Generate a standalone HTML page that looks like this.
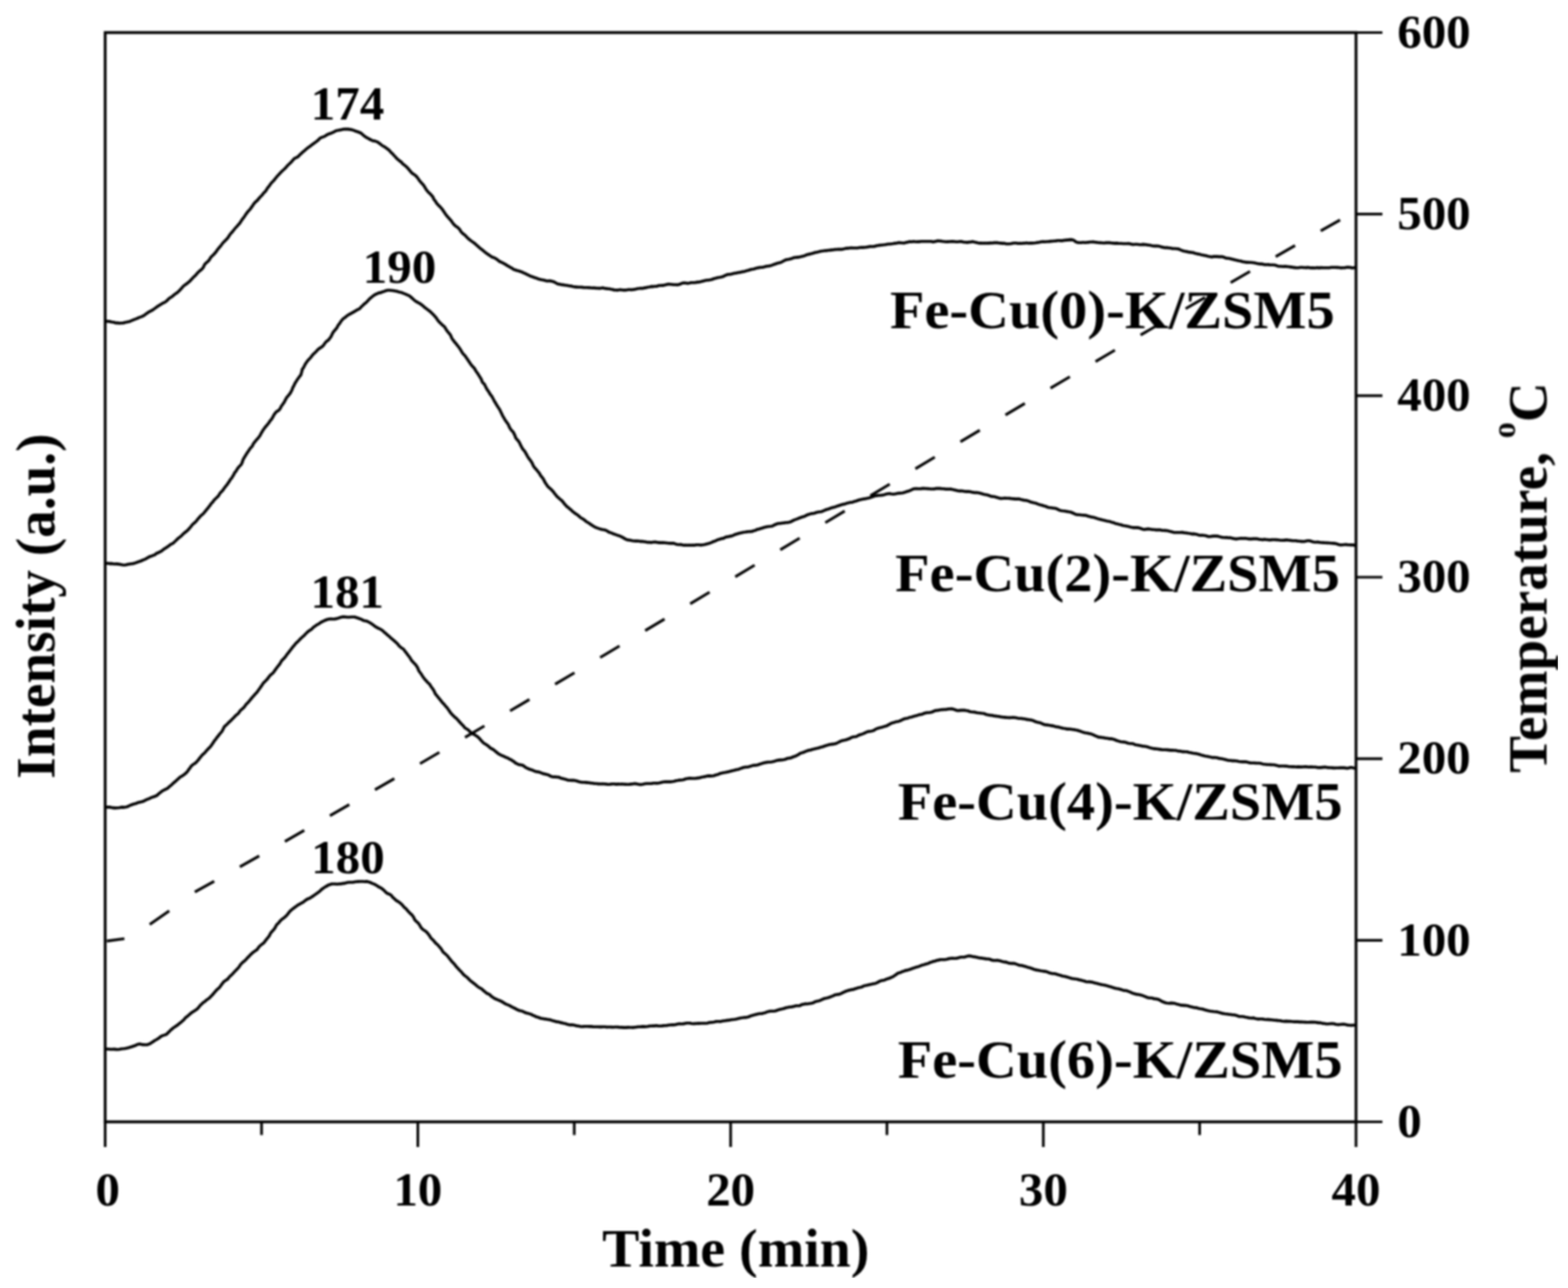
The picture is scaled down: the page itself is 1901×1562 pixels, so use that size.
<!DOCTYPE html><html><head><meta charset="utf-8"><style>html,body{margin:0;padding:0;background:#fff;}svg{display:block;}</style></head><body>
<svg width="1901" height="1562" viewBox="0 0 1901 1562">
<defs><filter id="bl" x="0" y="0" width="1" height="1"><feGaussianBlur stdDeviation="0.85"/></filter></defs>
<rect width="1901" height="1562" fill="#fff"/>
<g filter="url(#bl)">
<path d="M128.5,389.8 L129.8,389.6 L131.4,389.8 L133.3,389.9 L135.4,390.5 L137.7,390.7 L140.1,391.6 L142.5,391.6 L145.0,392.0 L147.3,391.8 L149.5,391.8 L151.3,391.0 L153.2,390.8 L155.1,390.3 L157.0,390.0 L158.7,389.1 L160.6,388.4 L162.4,387.6 L164.4,386.9 L166.4,386.1 L168.4,385.1 L170.7,384.4 L172.4,383.7 L174.1,382.8 L175.8,381.7 L177.4,380.4 L179.1,379.3 L180.9,378.1 L182.8,377.2 L184.7,376.2 L186.5,374.9 L188.3,373.6 L190.1,372.3 L191.9,371.1 L193.7,369.9 L195.6,368.8 L197.3,367.7 L199.1,366.9 L200.8,366.0 L202.3,364.7 L203.7,363.2 L205.1,361.9 L206.8,360.7 L208.6,359.7 L210.1,358.4 L211.6,357.1 L213.3,355.9 L215.1,354.8 L216.6,353.3 L218.1,351.9 L219.5,350.2 L220.9,348.7 L222.2,347.1 L223.8,345.9 L225.4,344.7 L227.1,343.5 L228.7,342.2 L230.3,340.8 L231.7,339.2 L233.1,337.8 L234.5,336.1 L236.1,334.8 L237.6,333.2 L239.0,331.6 L240.5,330.0 L242.1,328.5 L243.8,327.2 L245.4,325.7 L246.7,323.9 L247.5,321.9 L248.6,320.1 L250.1,318.7 L251.8,317.3 L253.3,315.7 L254.5,313.9 L255.6,312.0 L257.2,310.4 L258.8,309.0 L260.3,307.3 L261.7,305.7 L262.9,303.9 L264.2,302.2 L265.5,300.6 L266.9,299.1 L268.1,297.5 L269.2,296.0 L270.3,294.5 L271.6,293.3 L273.3,291.5 L275.0,289.9 L276.4,288.2 L277.5,286.4 L278.6,284.7 L279.7,283.2 L281.1,281.9 L282.3,280.4 L283.4,279.0 L284.6,277.5 L285.8,276.0 L287.2,274.7 L288.5,273.1 L290.0,271.6 L291.2,269.9 L292.4,268.1 L293.5,266.3 L294.8,264.6 L296.2,262.9 L297.3,261.1 L298.5,259.3 L299.8,257.6 L301.1,255.9 L302.6,254.4 L304.0,252.8 L305.1,251.0 L306.4,249.4 L307.4,247.6 L308.8,246.1 L310.1,244.5 L311.8,243.3 L313.0,241.7 L314.3,240.2 L315.6,238.7 L317.1,237.3 L318.5,235.8 L319.5,234.1 L321.1,232.8 L322.4,231.2 L323.5,229.5 L324.5,227.7 L325.9,226.2 L327.1,224.5 L328.3,222.8 L329.6,221.2 L331.1,219.8 L332.5,218.3 L333.7,216.6 L335.0,215.1 L336.2,213.5 L337.7,212.2 L338.9,210.7 L340.5,209.1 L342.0,207.5 L343.7,206.0 L345.3,204.5 L346.8,202.9 L348.2,201.3 L349.7,199.8 L351.3,198.3 L352.8,196.9 L354.2,195.3 L355.5,193.7 L357.1,192.1 L359.2,191.2 L361.1,190.1 L362.7,188.6 L364.2,187.1 L365.8,185.6 L367.4,184.2 L369.0,182.9 L370.5,181.4 L372.2,180.1 L373.9,178.7 L375.8,177.5 L377.5,176.1 L379.4,174.8 L381.0,173.4 L382.9,172.2 L384.6,170.8 L386.3,169.5 L387.6,167.8 L389.4,166.9 L391.5,166.1 L393.6,165.4 L395.3,164.1 L397.2,163.1 L399.1,162.2 L401.1,161.7 L402.9,160.8 L404.6,160.1 L406.1,159.2 L408.3,158.3 L410.4,158.0 L412.3,157.6 L414.2,157.3 L416.0,156.8 L418.0,156.5 L419.9,156.6 L421.8,156.6 L423.8,156.9 L425.8,157.1 L427.8,157.8 L429.8,158.4 L431.7,159.3 L433.5,159.8 L435.4,160.5 L437.3,161.2 L439.0,162.7 L440.7,164.1 L442.5,165.6 L444.5,166.9 L446.7,167.9 L448.3,169.0 L450.1,169.7 L451.9,170.7 L454.0,170.9 L456.1,171.6 L458.1,172.4 L459.8,173.7 L461.6,175.0 L463.3,176.5 L465.2,177.5 L467.1,178.6 L468.6,179.8 L470.3,181.0 L471.9,182.3 L473.3,183.9 L474.7,185.4 L476.3,186.8 L477.6,188.5 L479.2,190.0 L480.5,191.7 L482.1,193.1 L483.7,194.5 L485.4,195.8 L487.0,197.0 L488.2,198.7 L489.9,199.8 L491.4,201.1 L493.0,202.4 L494.4,203.9 L495.7,205.5 L497.0,207.0 L498.2,208.6 L499.6,210.1 L501.3,211.1 L503.0,212.3 L504.5,213.5 L505.8,215.1 L507.2,216.8 L508.2,218.6 L509.6,220.2 L510.9,221.8 L512.3,223.3 L513.7,224.8 L514.7,226.5 L515.7,228.2 L516.7,229.9 L517.9,231.3 L519.0,232.8 L520.8,234.3 L522.3,235.9 L523.7,237.5 L525.0,239.1 L525.7,241.1 L526.9,242.8 L528.2,244.4 L529.2,246.3 L530.7,247.9 L532.1,249.5 L533.7,250.8 L535.0,252.5 L536.4,254.0 L537.5,255.9 L538.8,257.6 L540.0,259.5 L541.3,261.3 L542.8,263.0 L544.4,264.7 L545.7,266.2 L547.1,267.7 L548.2,269.5 L549.5,271.3 L551.0,272.9 L552.7,274.4 L554.6,275.6 L556.1,277.1 L557.6,278.6 L558.5,280.5 L559.9,281.9 L561.1,283.3 L563.2,284.8 L564.9,286.4 L566.4,288.0 L567.9,289.5 L569.5,290.8 L571.2,292.1 L573.0,293.4 L574.9,294.8 L576.5,296.0 L577.9,297.4 L579.4,298.7 L581.0,300.1 L582.6,301.5 L584.3,302.7 L586.0,304.1 L587.8,305.6 L589.6,307.0 L591.5,308.4 L593.1,309.4 L594.7,310.6 L596.4,311.7 L598.4,312.3 L600.3,313.2 L602.1,314.3 L603.8,315.6 L605.5,317.0 L607.5,317.9 L609.5,318.8 L611.4,319.9 L613.3,320.9 L615.0,322.2 L616.9,323.1 L618.7,324.3 L620.7,325.2 L622.4,326.6 L624.5,327.3 L626.5,328.0 L628.7,328.5 L630.8,329.2 L632.8,329.9 L634.7,330.9 L636.6,331.7 L638.5,332.7 L640.4,333.5 L642.3,334.5 L644.3,335.3 L646.4,335.9 L648.3,336.8 L650.4,337.3 L652.4,338.2 L654.5,338.7 L656.5,339.2 L658.5,339.5 L660.4,340.1 L662.2,340.6 L664.1,340.7 L666.0,340.5 L668.5,340.9 L670.7,341.4 L672.5,342.3 L674.2,343.3 L675.9,344.3 L677.9,344.6 L680.0,345.1 L682.5,345.4 L684.3,345.7 L686.2,346.0 L688.2,346.3 L690.3,346.7 L692.5,346.9 L694.6,347.5 L696.8,347.9 L699.0,348.1 L701.3,348.3 L703.5,348.2 L705.7,348.4 L707.8,348.7 L709.9,348.8 L712.0,348.8 L714.0,348.9 L716.1,349.0 L718.1,349.2 L720.2,349.0 L722.3,349.4 L724.3,349.5 L726.4,349.6 L728.6,349.5 L730.8,349.1 L733.0,349.7 L734.9,349.9 L736.8,350.2 L738.8,350.3 L740.7,350.7 L742.6,351.0 L744.5,351.7 L746.5,351.8 L748.5,351.9 L750.6,351.5 L752.8,351.4 L754.9,351.8 L757.1,351.9 L759.4,351.7 L761.8,351.3 L763.6,351.3 L765.4,351.4 L767.3,351.2 L769.2,350.9 L771.1,350.5 L773.1,350.0 L775.1,349.8 L777.1,349.5 L779.2,349.7 L781.3,349.1 L783.4,348.9 L785.4,348.2 L787.6,348.0 L789.7,347.4 L791.9,347.6 L794.0,347.2 L796.2,347.2 L798.3,346.4 L800.5,346.3 L802.5,346.1 L804.5,346.1 L806.5,345.6 L808.5,345.1 L810.5,344.6 L812.6,344.8 L814.7,345.0 L816.9,345.3 L819.0,345.2 L821.1,345.4 L823.2,345.0 L825.3,344.2 L827.3,343.3 L829.4,343.1 L831.6,343.3 L833.7,343.6 L835.8,343.3 L837.8,342.8 L839.9,342.8 L842.0,342.8 L844.0,342.4 L846.0,342.1 L848.1,342.0 L850.0,341.4 L851.9,340.9 L853.8,340.4 L855.7,340.0 L857.7,339.7 L859.7,339.6 L861.6,339.2 L863.5,338.7 L865.3,338.0 L867.3,337.5 L869.2,336.9 L871.1,336.5 L873.1,336.2 L875.1,335.8 L877.1,335.2 L879.0,334.2 L880.9,333.3 L883.0,332.7 L885.2,332.7 L887.1,332.2 L889.0,331.8 L891.0,331.2 L893.0,331.1 L895.1,330.5 L897.2,330.4 L899.2,329.7 L901.3,329.4 L903.4,328.9 L905.5,328.2 L907.6,327.8 L909.7,327.0 L911.8,326.5 L913.9,326.2 L916.0,325.6 L918.0,325.1 L920.1,324.6 L922.1,324.3 L924.2,324.2 L926.2,323.8 L928.1,323.2 L930.0,322.8 L931.9,322.6 L933.8,322.3 L936.0,321.6 L938.2,320.7 L940.4,320.0 L942.5,319.3 L944.6,318.8 L946.7,318.3 L948.6,317.2 L950.4,316.2 L952.3,315.3 L954.2,314.7 L956.3,314.5 L958.2,313.9 L960.1,313.4 L962.0,312.6 L964.0,312.3 L966.0,312.1 L968.1,311.9 L970.1,311.5 L972.1,311.1 L974.1,310.6 L976.1,309.8 L978.0,308.9 L980.0,308.4 L982.0,308.1 L984.0,307.5 L986.0,307.0 L988.0,306.3 L990.0,305.9 L992.0,305.5 L994.0,304.9 L996.0,304.5 L998.0,304.3 L1000.1,304.0 L1002.1,303.9 L1004.1,303.5 L1006.2,303.4 L1008.2,303.1 L1010.2,303.0 L1012.2,302.6 L1014.2,302.5 L1016.3,302.3 L1018.3,302.4 L1020.3,302.4 L1022.3,302.0 L1024.3,301.6 L1026.3,301.1 L1028.3,301.1 L1030.3,300.7 L1032.3,300.6 L1034.4,300.7 L1036.4,300.8 L1038.4,300.8 L1040.4,300.6 L1042.4,300.2 L1044.5,300.1 L1046.5,300.1 L1048.5,300.0 L1050.5,299.7 L1052.5,299.4 L1054.5,298.9 L1056.6,299.0 L1058.6,298.9 L1060.6,298.7 L1062.6,298.0 L1064.6,297.7 L1066.6,297.4 L1068.6,297.2 L1070.6,297.0 L1072.6,296.8 L1074.6,296.4 L1076.6,296.0 L1078.7,296.0 L1080.7,295.7 L1082.7,295.5 L1084.7,295.1 L1086.7,295.0 L1088.7,294.4 L1090.7,294.3 L1092.8,294.5 L1094.9,294.8 L1096.9,294.6 L1098.8,293.9 L1100.9,293.6 L1102.9,293.1 L1104.9,293.3 L1106.9,292.9 L1108.9,293.0 L1111.0,293.2 L1113.0,293.0 L1115.0,293.1 L1117.0,292.7 L1119.0,292.7 L1121.0,292.8 L1123.0,292.8 L1125.0,292.8 L1127.0,292.8 L1129.0,292.7 L1131.0,293.4 L1133.0,292.9 L1135.0,292.6 L1137.0,292.1 L1139.0,292.3 L1141.0,292.4 L1143.1,292.8 L1145.1,293.0 L1147.1,293.3 L1149.2,293.1 L1151.3,293.0 L1153.3,292.9 L1155.2,292.9 L1157.2,293.0 L1159.1,293.3 L1161.1,293.2 L1163.0,293.0 L1165.0,292.9 L1166.9,293.2 L1168.9,293.7 L1170.9,293.8 L1172.9,294.1 L1174.9,293.6 L1177.0,293.5 L1179.1,293.0 L1181.2,293.5 L1183.3,293.9 L1185.5,294.5 L1187.7,294.9 L1190.0,294.8 L1191.8,295.0 L1193.7,294.9 L1195.5,295.0 L1197.4,294.7 L1199.3,294.9 L1201.3,294.6 L1203.2,294.7 L1205.2,294.4 L1207.1,294.4 L1209.1,294.4 L1211.1,294.7 L1213.1,294.9 L1215.2,295.1 L1217.2,295.1 L1219.3,295.6 L1221.4,295.7 L1223.5,295.8 L1225.6,295.5 L1227.7,295.0 L1229.8,294.7 L1231.9,294.8 L1234.1,295.3 L1236.2,295.1 L1238.4,295.3 L1240.4,294.9 L1242.4,295.0 L1244.5,294.6 L1246.6,295.0 L1248.8,294.8 L1251.0,294.9 L1253.3,294.7 L1255.6,294.5 L1257.8,294.1 L1260.1,293.8 L1262.4,293.2 L1264.7,293.1 L1267.0,293.2 L1269.3,293.0 L1271.5,292.9 L1273.8,292.6 L1275.9,292.5 L1278.1,292.2 L1280.1,292.1 L1282.1,291.8 L1284.1,291.8 L1286.0,291.9 L1287.8,291.9 L1289.5,291.4 L1291.1,291.5 L1292.6,291.1 L1294.0,291.1 L1297.8,290.6 L1300.3,290.9 L1301.9,291.4 L1302.9,292.2 L1303.8,293.1 L1305.3,293.7 L1307.5,294.2 L1311.0,294.3 L1312.4,294.0 L1314.0,294.0 L1315.6,294.2 L1317.4,294.0 L1319.2,293.9 L1321.2,293.5 L1323.2,293.5 L1325.3,293.2 L1327.4,293.7 L1329.6,293.9 L1331.8,294.3 L1334.0,294.4 L1336.2,294.5 L1338.5,294.7 L1340.8,294.4 L1343.0,294.4 L1345.2,294.2 L1347.4,294.7 L1349.6,294.9 L1351.7,295.1 L1353.7,294.9 L1355.7,295.1 L1357.6,295.2 L1359.4,295.3 L1361.7,295.5 L1364.0,295.5 L1366.2,295.5 L1368.3,295.4 L1370.4,295.7 L1372.4,296.4 L1374.4,296.5 L1376.4,296.2 L1378.3,296.3 L1380.2,296.5 L1382.1,296.7 L1384.0,296.6 L1386.0,296.4 L1387.9,296.6 L1389.8,296.8 L1391.7,297.1 L1393.7,297.3 L1395.7,297.8 L1397.7,298.2 L1399.8,298.4 L1401.9,298.2 L1404.0,298.4 L1406.2,298.8 L1408.2,299.6 L1410.3,299.9 L1412.4,300.4 L1414.6,300.3 L1416.7,300.6 L1418.8,300.8 L1420.8,301.4 L1422.8,301.5 L1424.9,301.5 L1426.8,301.7 L1428.7,301.9 L1430.3,302.7 L1432.0,303.4 L1434.4,304.2 L1436.6,304.8 L1438.8,305.1 L1440.9,305.7 L1442.9,305.9 L1444.9,306.2 L1446.8,306.4 L1448.5,307.2 L1450.4,307.5 L1452.3,308.1 L1454.2,308.3 L1456.1,308.9 L1458.1,309.3 L1460.0,309.7 L1461.8,310.1 L1463.7,310.6 L1465.5,311.0 L1467.4,311.3 L1469.2,311.7 L1471.3,311.1 L1473.4,311.1 L1475.6,311.1 L1477.9,311.4 L1480.4,311.4 L1482.2,311.4 L1483.9,312.0 L1485.7,312.7 L1487.6,313.3 L1489.6,313.3 L1491.6,313.7 L1493.6,314.2 L1495.6,314.7 L1497.7,315.3 L1499.8,315.7 L1501.9,316.2 L1504.0,316.5 L1506.1,317.3 L1508.2,317.6 L1510.3,318.1 L1512.5,318.1 L1514.6,318.3 L1516.6,318.3 L1518.7,318.5 L1520.8,318.8 L1522.8,319.3 L1524.9,319.7 L1527.0,320.1 L1529.2,320.1 L1531.3,320.4 L1533.4,320.9 L1535.5,321.0 L1537.6,320.9 L1539.7,321.2 L1541.7,321.3 L1543.8,321.2 L1545.7,321.6 L1547.6,322.1 L1549.4,322.7 L1551.1,323.0 L1552.9,323.0 L1555.2,323.2 L1557.2,323.1 L1558.9,323.1 L1560.4,323.2 L1561.8,323.5 L1563.2,323.5 L1564.7,323.9 L1566.4,323.9 L1568.4,324.4 L1570.8,324.6 L1573.7,324.7 L1577.1,324.3 L1578.6,324.3 L1580.2,324.5 L1581.9,324.5 L1583.8,324.6 L1585.8,324.3 L1587.8,324.7 L1590.0,324.9 L1592.2,324.9 L1594.5,325.0 L1596.8,324.6 L1599.2,324.9 L1601.7,324.6 L1604.1,324.8 L1606.6,324.8 L1609.1,324.8 L1611.6,324.7 L1614.0,324.3 L1616.5,324.3 L1618.9,324.3 L1621.3,324.4 L1623.6,324.5 L1625.9,324.9 L1628.1,324.8 L1630.2,324.8 L1632.2,324.3 L1634.1,324.0 L1635.9,324.2 L1637.6,324.4 L1639.2,325.0 L1640.6,324.7 L1641.9,324.7 L1643.0,324.3" fill="none" stroke="#000" stroke-width="3.6" stroke-linejoin="round" stroke-linecap="round"/>
<path d="M128.5,683.1 L129.7,683.2 L131.2,683.1 L132.8,683.6 L134.8,683.4 L136.8,683.7 L139.0,684.0 L141.3,683.9 L143.6,684.1 L146.0,684.5 L148.3,685.0 L150.5,685.3 L152.6,684.9 L154.6,684.4 L156.6,684.2 L158.5,683.8 L160.5,683.6 L162.4,683.3 L164.1,682.6 L166.0,682.0 L167.7,681.3 L169.6,680.7 L171.5,680.0 L173.4,679.1 L175.4,678.3 L177.5,677.3 L179.0,676.4 L180.6,675.5 L182.3,674.7 L184.2,674.2 L186.0,673.4 L187.9,672.7 L189.4,671.2 L191.3,670.5 L193.2,669.6 L195.1,668.7 L196.8,667.5 L198.4,666.1 L200.2,665.0 L202.0,663.9 L203.6,662.7 L205.3,661.6 L206.9,660.2 L208.9,659.4 L210.5,658.2 L212.0,656.8 L213.6,655.3 L215.0,653.8 L216.6,652.4 L218.3,651.1 L219.9,649.8 L221.4,648.3 L222.9,646.8 L224.5,645.5 L226.2,644.2 L227.8,642.8 L229.2,641.2 L230.6,639.6 L231.9,638.1 L233.0,636.5 L234.5,635.2 L236.0,633.9 L237.4,632.5 L238.7,631.1 L239.8,629.4 L241.2,628.0 L242.5,626.5 L243.9,625.1 L245.4,623.9 L246.9,622.5 L248.2,620.8 L249.6,619.3 L250.8,617.6 L252.3,616.0 L253.5,614.1 L254.9,612.8 L255.7,611.0 L257.1,609.7 L258.4,608.2 L259.5,606.6 L260.9,605.2 L262.4,603.8 L263.9,602.4 L265.2,600.8 L266.2,599.0 L267.4,597.3 L269.0,595.9 L270.4,594.3 L271.5,592.5 L272.8,590.8 L274.1,589.1 L275.5,587.5 L276.6,585.7 L278.0,583.9 L278.9,581.9 L280.3,580.5 L281.4,578.9 L282.4,577.2 L283.5,575.5 L284.3,573.6 L285.7,572.1 L286.8,570.3 L287.8,568.5 L289.1,566.9 L290.5,565.3 L292.1,563.8 L293.1,562.0 L293.9,560.0 L294.5,557.9 L295.5,556.0 L296.5,554.3 L297.6,552.5 L298.7,550.8 L299.8,549.1 L300.9,547.4 L302.0,545.8 L303.1,544.2 L304.3,542.7 L305.9,541.1 L306.7,539.0 L307.9,537.2 L309.3,535.5 L310.6,533.8 L312.1,532.3 L313.4,530.7 L314.7,529.0 L315.7,527.3 L316.6,525.4 L317.8,523.7 L318.7,521.8 L319.9,520.3 L321.1,518.6 L322.4,517.0 L323.8,515.5 L325.0,513.9 L326.3,512.3 L327.3,510.4 L328.8,508.9 L329.9,507.2 L331.0,505.5 L331.9,503.6 L333.0,501.9 L334.2,500.3 L335.7,498.9 L337.7,497.9 L339.0,496.3 L340.2,494.7 L341.0,492.7 L342.3,491.1 L343.5,489.3 L344.7,487.6 L345.6,485.7 L346.6,483.8 L347.7,481.8 L349.3,480.2 L350.7,478.4 L351.9,476.9 L352.8,475.1 L353.8,473.4 L354.5,471.4 L355.3,469.5 L356.4,467.6 L357.3,465.6 L358.3,463.7 L359.5,461.9 L360.7,460.0 L362.0,458.2 L363.2,456.4 L364.8,454.7 L365.3,452.5 L366.0,450.5 L366.3,448.3 L367.5,446.5 L368.5,444.8 L369.4,443.0 L370.3,441.3 L371.4,439.7 L372.4,438.2 L373.6,436.8 L375.3,435.1 L376.8,433.4 L378.1,431.6 L379.5,429.9 L381.0,428.5 L382.5,427.1 L383.9,425.7 L385.2,424.1 L386.7,422.9 L388.3,421.9 L390.0,420.8 L391.4,419.6 L392.7,418.1 L393.7,416.4 L395.0,415.0 L396.4,413.6 L398.2,412.4 L399.5,410.7 L400.8,409.0 L401.9,407.1 L402.8,405.1 L403.8,403.2 L405.1,401.5 L406.5,399.8 L407.9,398.2 L409.0,396.5 L409.9,394.6 L411.2,393.0 L412.4,391.4 L413.4,389.6 L414.7,388.1 L416.1,386.5 L418.0,385.3 L419.6,383.9 L421.3,382.6 L423.1,381.4 L425.0,380.5 L426.9,379.4 L428.7,378.4 L430.4,377.4 L432.1,376.3 L433.8,375.4 L435.5,374.7 L436.8,373.4 L437.9,372.2 L439.8,370.5 L441.4,368.8 L443.2,367.6 L444.5,366.2 L445.9,364.9 L447.0,363.5 L448.3,362.2 L449.8,361.0 L451.4,359.6 L453.2,358.3 L455.2,357.0 L457.3,356.1 L459.4,355.1 L461.7,354.9 L463.6,353.9 L465.6,353.4 L467.9,352.5 L470.2,352.0 L472.4,352.0 L474.6,352.2 L476.9,352.5 L479.5,353.0 L481.1,353.3 L482.7,353.8 L484.3,354.2 L486.0,354.5 L487.7,355.1 L489.5,355.9 L491.5,356.6 L493.7,357.6 L496.1,358.6 L498.4,360.5 L499.6,361.5 L500.8,362.7 L502.1,363.8 L503.4,365.0 L505.0,365.9 L506.7,366.9 L508.6,367.8 L510.3,369.0 L511.9,370.2 L513.6,371.6 L515.2,373.1 L516.9,374.3 L518.7,375.7 L520.5,377.0 L522.2,378.4 L523.8,380.0 L525.3,381.5 L526.8,383.1 L528.2,384.7 L529.5,386.4 L530.6,388.2 L531.9,389.8 L533.3,391.3 L534.9,392.6 L536.3,394.2 L538.0,395.4 L539.4,397.0 L540.5,398.9 L541.6,400.7 L542.9,402.4 L544.3,404.0 L545.7,405.7 L546.7,407.5 L547.5,409.5 L548.5,411.4 L549.9,413.0 L551.0,414.7 L552.5,416.2 L553.7,417.8 L554.9,419.4 L556.2,420.9 L557.3,422.5 L558.5,424.4 L559.6,426.3 L560.7,428.1 L562.1,429.7 L563.6,431.2 L564.8,432.9 L565.9,434.6 L567.1,436.2 L568.2,437.9 L569.3,439.6 L570.4,441.3 L571.7,442.9 L573.0,444.5 L574.5,445.9 L575.7,447.6 L576.7,449.4 L577.9,451.2 L579.2,453.0 L580.2,454.7 L581.3,456.3 L582.3,458.0 L583.4,459.7 L584.1,461.6 L584.8,463.6 L586.3,465.1 L587.7,466.6 L588.5,468.5 L589.5,470.4 L590.4,472.2 L591.7,473.9 L592.8,475.6 L593.8,477.4 L595.0,479.1 L596.4,480.7 L597.3,482.6 L598.4,484.4 L599.2,486.4 L600.5,488.1 L601.4,489.9 L602.5,491.6 L603.5,493.3 L604.7,495.0 L605.8,496.7 L606.7,498.5 L607.6,500.4 L608.5,502.3 L609.3,504.1 L610.4,505.9 L611.4,507.7 L612.4,509.5 L613.7,511.2 L614.9,512.9 L616.1,514.5 L616.9,516.4 L617.7,518.3 L618.8,520.0 L620.0,521.7 L621.5,523.2 L622.7,524.8 L623.5,526.7 L624.5,528.6 L625.0,530.7 L626.3,532.4 L627.8,533.9 L629.0,535.6 L630.1,537.4 L630.9,539.3 L631.9,541.2 L632.8,543.0 L633.9,544.8 L635.3,546.3 L636.6,547.9 L637.5,549.8 L638.6,551.5 L639.4,553.3 L640.6,555.0 L641.7,556.7 L642.9,558.2 L644.1,559.8 L645.2,561.7 L646.1,563.7 L647.0,565.7 L648.4,567.4 L649.9,569.0 L651.2,570.6 L652.6,572.3 L653.9,573.9 L654.9,575.8 L656.0,577.6 L657.4,579.1 L658.7,580.8 L659.6,582.6 L660.5,584.5 L661.6,586.2 L662.7,587.8 L663.8,589.5 L665.2,590.9 L666.8,592.3 L668.4,593.7 L669.8,595.3 L671.2,596.8 L672.3,598.5 L673.7,599.9 L674.8,601.6 L676.2,602.9 L677.7,604.2 L679.1,605.6 L680.8,606.7 L682.1,608.2 L683.4,609.7 L684.5,611.4 L686.0,612.8 L687.4,614.5 L689.1,615.6 L690.5,617.1 L692.3,618.3 L693.7,619.9 L695.5,621.2 L697.2,622.6 L699.1,623.7 L700.9,625.1 L702.6,626.5 L704.2,628.0 L706.2,629.0 L708.0,630.2 L709.6,631.5 L711.1,632.8 L712.9,633.8 L714.5,634.8 L716.0,635.9 L718.1,637.2 L720.1,638.5 L722.2,639.6 L724.3,640.4 L726.4,641.1 L728.4,641.7 L730.5,642.2 L732.5,642.5 L734.5,643.1 L736.3,644.0 L738.0,645.2 L739.9,645.9 L741.9,646.7 L743.9,647.5 L745.9,648.1 L747.8,648.9 L749.7,649.5 L751.7,650.1 L753.4,651.0 L755.2,651.8 L756.8,652.9 L758.6,653.9 L760.3,654.7 L762.5,654.9 L764.5,655.3 L766.6,655.7 L768.6,656.0 L770.6,656.1 L772.7,656.1 L774.7,656.3 L776.8,656.6 L778.9,656.6 L781.0,657.0 L783.0,657.1 L785.0,657.7 L787.1,657.6 L789.2,658.0 L791.3,657.5 L793.5,657.4 L795.6,657.4 L797.8,657.9 L799.9,658.1 L802.1,658.0 L804.3,658.1 L806.3,658.2 L808.4,658.5 L810.5,658.8 L812.6,658.9 L814.8,658.7 L816.9,658.9 L818.9,659.7 L821.0,660.2 L823.0,660.5 L825.1,660.4 L827.0,660.7 L828.9,661.2 L831.2,661.1 L833.4,661.3 L835.6,661.1 L837.7,661.2 L839.8,661.0 L841.9,661.2 L843.8,660.7 L845.8,660.7 L847.6,660.7 L849.4,661.1 L851.8,660.8 L853.9,660.5 L855.8,659.9 L857.7,659.4 L859.5,659.0 L861.3,658.4 L863.2,657.6 L865.0,656.7 L866.8,656.2 L868.6,655.4 L870.3,654.5 L872.3,654.0 L874.5,653.3 L876.9,652.9 L878.5,652.1 L880.3,651.2 L882.4,650.9 L884.5,650.4 L886.7,650.1 L888.7,649.3 L890.8,648.3 L892.9,647.7 L895.1,647.1 L897.2,646.6 L899.2,646.1 L901.2,645.5 L903.4,645.3 L905.4,644.9 L907.5,644.7 L909.7,644.6 L911.8,644.5 L913.8,643.6 L915.8,643.2 L917.7,642.1 L919.8,641.8 L921.8,641.0 L923.9,640.5 L925.9,639.8 L928.0,639.3 L930.0,638.8 L932.2,638.5 L934.3,638.3 L936.4,638.0 L938.3,636.9 L940.3,636.0 L942.2,635.2 L944.3,634.7 L946.4,634.8 L948.5,634.3 L950.5,634.1 L952.6,633.8 L954.8,633.8 L956.9,633.3 L958.9,632.7 L960.9,631.6 L962.8,630.6 L964.9,629.9 L967.0,629.1 L969.0,628.2 L971.1,627.5 L973.2,626.8 L975.4,626.2 L977.3,625.2 L979.3,624.2 L981.4,623.6 L983.4,622.9 L985.6,622.7 L987.7,622.2 L989.7,621.5 L991.8,621.1 L993.9,620.7 L996.0,620.5 L997.9,619.7 L999.8,618.8 L1001.7,618.0 L1003.6,617.5 L1005.2,617.0 L1006.8,616.3 L1008.6,615.8 L1010.5,615.2 L1012.8,614.7 L1015.3,613.7 L1018.3,612.7 L1019.8,612.2 L1021.4,611.7 L1023.2,611.4 L1025.0,610.9 L1026.9,610.2 L1028.9,609.8 L1031.0,609.3 L1033.2,609.2 L1035.3,608.3 L1037.5,607.7 L1039.6,607.0 L1041.8,606.2 L1044.0,605.7 L1046.2,605.2 L1048.5,604.9 L1050.6,604.5 L1052.8,604.1 L1054.8,603.5 L1056.7,602.8 L1058.5,602.2 L1060.3,601.6 L1062.7,601.1 L1065.1,600.7 L1067.5,600.7 L1069.8,600.4 L1072.1,599.9 L1074.2,599.2 L1076.4,598.8 L1078.5,598.6 L1080.6,599.0 L1082.6,599.2 L1084.6,599.1 L1086.5,598.7 L1088.4,598.2 L1090.2,598.1 L1092.0,598.0 L1094.5,597.7 L1096.8,597.1 L1098.8,596.3 L1100.7,595.7 L1102.6,595.2 L1104.4,594.4 L1106.2,593.5 L1108.2,592.7 L1110.5,592.5 L1113.0,592.7 L1114.8,592.7 L1116.6,592.6 L1118.5,592.4 L1120.4,592.4 L1122.4,592.5 L1124.4,592.6 L1126.4,592.7 L1128.5,593.0 L1130.7,593.0 L1132.9,592.9 L1135.2,592.3 L1137.5,592.4 L1139.8,592.4 L1142.2,592.7 L1144.6,592.8 L1146.4,593.3 L1148.3,593.1 L1150.3,593.3 L1152.3,593.0 L1154.4,593.5 L1156.5,593.9 L1158.6,594.4 L1160.8,595.0 L1163.0,595.4 L1165.2,595.3 L1167.4,595.5 L1169.5,596.0 L1171.7,596.1 L1173.8,596.1 L1175.9,596.2 L1177.9,596.8 L1179.8,597.1 L1181.7,597.5 L1183.5,597.4 L1185.2,597.5 L1186.7,597.8 L1189.6,598.5 L1192.0,599.2 L1194.1,599.7 L1196.1,600.0 L1197.8,600.6 L1199.5,601.1 L1201.2,601.8 L1203.1,602.1 L1205.3,602.3 L1207.7,602.9 L1209.4,603.4 L1211.1,604.0 L1212.8,604.4 L1214.7,604.5 L1216.5,604.3 L1218.5,604.1 L1220.4,604.2 L1222.4,604.2 L1224.4,604.4 L1226.5,604.7 L1228.6,604.9 L1230.8,605.1 L1233.1,605.0 L1235.4,605.1 L1237.7,605.7 L1240.0,606.2 L1241.8,606.8 L1243.7,606.8 L1245.5,607.3 L1247.4,607.7 L1249.2,608.8 L1251.2,609.1 L1253.2,609.7 L1255.2,610.1 L1257.2,610.8 L1259.2,611.6 L1261.3,612.3 L1263.4,612.8 L1265.5,613.5 L1267.6,614.0 L1269.6,614.9 L1271.7,615.5 L1274.0,615.7 L1276.1,616.1 L1278.3,616.2 L1280.4,616.7 L1282.3,617.6 L1284.2,618.6 L1286.2,619.2 L1288.2,619.5 L1290.3,619.7 L1292.3,620.1 L1294.4,620.4 L1296.4,620.8 L1298.4,621.1 L1300.3,622.0 L1302.3,622.9 L1304.2,623.8 L1306.2,624.1 L1308.3,624.3 L1310.3,624.5 L1312.4,624.8 L1314.4,624.9 L1316.5,625.0 L1318.5,625.7 L1320.4,626.3 L1322.4,626.9 L1324.5,627.2 L1326.5,627.6 L1328.5,628.3 L1330.4,628.9 L1332.4,629.6 L1334.4,630.0 L1336.4,630.5 L1338.5,630.9 L1340.5,631.6 L1342.5,632.0 L1344.6,632.3 L1346.6,632.9 L1348.5,633.6 L1350.6,634.1 L1352.5,634.9 L1354.5,635.3 L1356.5,635.9 L1358.6,636.3 L1360.5,637.0 L1362.5,637.5 L1364.6,637.8 L1366.6,638.2 L1368.6,638.6 L1370.6,639.2 L1372.6,639.6 L1374.6,639.9 L1376.7,639.9 L1378.7,639.9 L1380.7,640.1 L1382.7,640.8 L1384.6,641.5 L1386.6,642.1 L1388.6,641.9 L1390.7,641.6 L1392.7,641.4 L1394.7,641.8 L1396.7,642.1 L1398.7,642.2 L1400.7,642.6 L1402.7,642.6 L1404.8,642.6 L1406.8,642.6 L1408.8,643.2 L1410.8,643.3 L1412.8,643.4 L1414.8,643.5 L1416.8,643.9 L1418.8,644.6 L1420.7,645.1 L1422.7,645.6 L1424.8,645.7 L1426.8,645.7 L1428.8,645.8 L1430.9,645.7 L1432.9,645.6 L1434.9,645.9 L1436.9,646.3 L1439.0,646.4 L1441.0,646.8 L1443.0,647.0 L1444.9,647.6 L1447.0,647.4 L1449.0,647.7 L1451.0,648.1 L1452.9,648.8 L1454.9,649.2 L1457.0,649.1 L1459.0,649.3 L1461.0,649.5 L1463.0,650.0 L1464.9,650.7 L1467.0,650.6 L1469.0,650.4 L1471.1,650.1 L1473.1,650.1 L1475.1,650.1 L1477.1,650.4 L1479.1,651.1 L1481.0,651.6 L1483.0,651.8 L1485.0,652.0 L1487.1,651.7 L1489.1,652.2 L1491.1,652.1 L1493.1,652.6 L1495.0,652.9 L1497.0,653.4 L1499.0,653.6 L1501.1,653.3 L1503.1,653.0 L1505.1,652.8 L1507.1,653.0 L1509.1,652.9 L1511.1,653.0 L1513.1,653.4 L1515.1,653.6 L1517.2,653.6 L1519.2,653.4 L1521.2,653.4 L1523.2,653.4 L1525.2,653.6 L1527.2,654.2 L1529.2,654.3 L1531.2,654.6 L1533.2,654.1 L1535.2,654.5 L1537.2,654.5 L1539.2,655.0 L1541.3,654.6 L1543.3,654.5 L1545.3,654.5 L1547.3,654.6 L1549.3,654.7 L1551.3,655.0 L1553.3,655.2 L1555.3,655.3 L1557.3,655.1 L1559.2,654.9 L1561.2,654.9 L1563.2,655.3 L1565.1,655.4 L1567.1,655.8 L1569.1,655.7 L1571.1,655.8 L1573.0,656.1 L1575.0,656.2 L1577.0,656.6 L1579.0,656.6 L1581.0,656.7 L1583.1,656.2 L1585.2,655.8 L1587.3,655.8 L1589.3,656.3 L1591.4,657.1 L1593.5,657.5 L1595.5,657.5 L1597.6,657.4 L1599.8,657.7 L1602.0,658.0 L1604.3,658.1 L1606.7,658.3 L1609.0,658.4 L1611.5,658.5 L1613.9,658.8 L1616.3,658.9 L1618.7,659.1 L1621.0,659.7 L1623.3,660.5 L1625.5,660.9 L1627.8,660.8 L1630.0,660.5 L1632.0,660.4 L1634.0,660.7 L1635.8,660.8 L1637.6,660.9 L1639.2,660.8 L1640.6,660.9 L1641.9,661.1 L1643.0,661.6" fill="none" stroke="#000" stroke-width="3.6" stroke-linejoin="round" stroke-linecap="round"/>
<path d="M128.4,979.0 L129.6,978.9 L131.1,978.9 L132.9,978.8 L134.8,979.3 L137.0,979.6 L139.3,979.9 L141.9,979.8 L144.6,979.5 L146.2,979.2 L148.0,978.9 L150.0,979.1 L152.0,978.8 L154.1,978.4 L156.1,977.5 L158.1,976.5 L160.2,975.7 L162.4,975.0 L164.6,974.5 L166.7,973.6 L168.8,973.0 L171.0,972.5 L173.1,972.0 L175.0,971.1 L176.8,970.1 L178.7,969.3 L180.7,968.6 L182.6,967.7 L184.4,966.9 L186.4,966.2 L188.4,965.5 L190.3,964.6 L191.9,963.1 L193.6,961.7 L195.3,960.4 L197.1,959.0 L199.1,958.0 L200.8,957.2 L202.6,956.4 L204.1,955.1 L205.5,953.8 L207.2,952.6 L208.6,951.2 L210.0,949.8 L211.6,948.5 L213.2,947.2 L214.7,945.7 L216.3,944.4 L217.8,942.8 L219.6,941.7 L221.5,940.6 L223.3,939.3 L225.0,937.9 L226.4,936.4 L227.8,934.9 L228.8,933.1 L230.2,931.7 L231.2,929.8 L232.7,928.4 L234.2,927.0 L236.1,926.0 L237.7,924.7 L239.1,923.1 L240.6,921.6 L241.7,919.8 L243.1,918.2 L244.4,916.6 L245.8,915.1 L247.4,913.7 L248.9,912.3 L250.1,910.6 L251.5,909.2 L252.8,907.7 L254.4,906.3 L255.7,904.7 L256.9,903.1 L258.0,901.3 L259.2,899.7 L260.2,897.9 L261.6,896.5 L262.6,894.8 L264.0,893.3 L265.2,891.7 L266.4,890.1 L267.7,888.6 L269.0,887.1 L270.0,885.3 L270.9,883.4 L271.8,881.6 L273.3,880.1 L274.8,878.7 L276.3,877.3 L277.7,875.8 L279.3,874.4 L280.7,872.9 L282.2,871.4 L283.7,869.9 L285.2,868.3 L286.8,866.9 L288.5,865.6 L289.9,863.9 L291.1,862.1 L292.6,860.6 L294.2,859.3 L295.7,857.9 L296.9,856.3 L298.0,854.7 L299.3,853.3 L300.7,852.0 L301.8,850.7 L303.3,848.8 L304.8,847.0 L306.2,845.3 L307.7,843.8 L308.9,842.2 L310.4,840.8 L311.6,839.3 L312.8,837.8 L313.8,836.1 L315.1,834.7 L316.1,833.0 L317.4,831.4 L318.5,829.5 L319.7,827.9 L321.2,826.6 L322.7,825.1 L324.1,823.6 L325.3,821.9 L326.5,820.2 L327.9,818.7 L329.5,817.3 L331.2,815.9 L332.5,814.2 L333.7,812.3 L335.0,810.6 L336.3,808.8 L337.7,807.1 L339.0,805.5 L340.0,803.8 L341.0,802.0 L342.3,800.4 L343.8,799.0 L345.1,797.5 L346.5,795.9 L347.6,794.1 L348.9,792.5 L350.2,790.8 L351.5,789.1 L352.9,787.4 L354.2,785.7 L355.5,783.9 L357.1,782.3 L358.4,780.4 L359.9,779.2 L361.3,777.7 L362.8,776.3 L364.2,774.7 L365.8,773.3 L367.4,771.8 L369.1,770.4 L370.5,768.7 L372.1,767.2 L373.8,765.7 L375.5,764.4 L377.5,763.3 L379.0,761.8 L380.5,760.3 L382.3,759.2 L383.9,757.9 L385.7,757.0 L387.3,756.0 L388.8,754.9 L390.8,753.8 L392.8,752.9 L394.8,752.0 L396.9,751.2 L399.0,750.7 L401.3,750.6 L403.5,750.7 L405.6,750.6 L407.7,750.4 L409.7,749.8 L411.7,749.1 L413.7,748.6 L415.6,748.1 L417.5,748.1 L419.3,748.2 L421.0,748.5 L423.5,748.5 L425.9,748.3 L428.1,748.2 L430.2,748.3 L432.1,749.0 L434.0,749.5 L435.8,750.3 L437.7,750.9 L439.6,752.0 L441.7,752.7 L443.5,753.1 L445.4,753.6 L447.2,754.5 L449.0,755.5 L450.8,756.7 L452.5,757.9 L454.2,759.2 L456.0,760.4 L457.8,761.5 L459.7,762.3 L461.5,763.3 L463.1,764.3 L464.6,765.4 L466.1,767.1 L467.9,768.3 L469.3,769.8 L471.0,770.9 L472.4,772.3 L473.8,773.6 L475.3,774.9 L476.8,776.2 L478.4,777.5 L479.9,778.9 L481.4,780.3 L482.8,781.8 L483.9,783.4 L485.5,784.6 L487.0,786.0 L489.0,787.0 L490.3,788.8 L491.7,790.6 L493.3,792.7 L494.9,794.9 L496.0,796.2 L497.0,797.6 L498.0,799.2 L498.9,801.0 L500.4,802.4 L501.8,803.9 L503.3,805.4 L504.6,807.1 L505.8,808.9 L506.8,810.9 L507.5,813.0 L508.7,814.8 L510.0,816.5 L511.2,818.2 L512.2,820.0 L513.4,821.6 L514.5,823.2 L515.7,824.6 L517.3,826.3 L518.7,827.9 L520.5,829.3 L521.6,831.0 L522.7,832.7 L523.8,834.2 L524.9,835.8 L526.0,837.5 L526.8,839.2 L527.6,841.1 L528.8,842.7 L530.2,844.2 L531.4,845.9 L532.9,847.5 L533.9,849.1 L535.3,850.6 L536.5,852.3 L538.1,853.7 L539.4,855.4 L540.8,857.0 L542.3,858.6 L543.4,860.4 L544.8,862.1 L545.9,864.0 L547.3,865.5 L548.6,867.1 L550.2,868.4 L551.6,869.9 L553.2,871.0 L554.4,872.4 L556.0,874.1 L557.4,875.9 L559.0,877.4 L560.4,878.9 L561.8,880.3 L563.0,882.0 L564.5,883.3 L566.3,884.3 L568.0,885.4 L569.5,886.9 L571.0,888.4 L572.8,889.8 L574.7,890.6 L576.4,891.7 L578.2,892.8 L579.8,894.2 L581.4,895.6 L582.8,897.4 L584.3,898.9 L585.7,900.6 L587.5,901.9 L589.5,903.0 L591.2,904.2 L592.9,905.6 L594.5,907.1 L596.4,908.1 L598.2,909.1 L599.8,910.4 L601.4,911.8 L603.0,913.0 L604.6,914.3 L606.4,915.2 L608.2,916.2 L610.2,916.9 L612.0,917.8 L613.9,918.7 L616.0,919.4 L617.8,920.7 L619.8,921.5 L621.6,922.8 L623.3,923.7 L624.7,925.2 L626.4,926.0 L628.2,926.9 L630.1,927.4 L632.2,927.7 L634.1,928.3 L635.7,929.5 L637.4,930.7 L639.2,931.7 L641.1,932.5 L643.1,933.2 L645.1,933.8 L647.0,934.7 L649.0,935.5 L651.1,935.9 L653.3,936.2 L655.1,936.9 L656.9,937.6 L658.8,938.4 L660.9,938.7 L662.8,939.3 L664.9,939.8 L666.8,941.0 L668.8,941.7 L670.9,942.2 L673.1,942.0 L675.2,942.4 L677.4,942.5 L679.3,943.4 L681.3,943.9 L683.3,944.4 L685.2,945.1 L687.1,945.6 L689.0,946.2 L690.9,946.3 L693.2,946.4 L695.5,946.3 L697.7,946.8 L699.8,947.3 L701.9,948.0 L704.0,948.4 L706.0,948.8 L708.1,948.7 L710.2,948.9 L712.2,949.1 L714.2,949.3 L716.3,949.6 L718.3,949.7 L720.4,950.2 L722.5,950.2 L724.5,950.6 L726.6,950.6 L728.6,950.8 L730.7,950.5 L732.6,950.8 L734.6,950.9 L736.6,951.2 L738.7,951.3 L740.7,950.9 L742.8,950.8 L744.9,950.8 L747.1,951.1 L749.4,950.9 L751.7,951.0 L754.1,950.9 L755.9,951.0 L757.7,951.1 L759.6,951.3 L761.4,951.2 L763.4,951.1 L765.3,950.9 L767.3,950.7 L769.3,950.3 L771.3,950.6 L773.4,951.0 L775.5,951.4 L777.6,951.5 L779.7,951.1 L781.7,950.6 L783.8,950.2 L785.9,950.3 L788.0,950.3 L790.0,950.3 L792.1,949.8 L794.1,949.8 L796.1,949.9 L798.2,949.8 L800.2,949.3 L802.3,948.7 L804.4,948.2 L806.5,948.1 L808.7,948.0 L810.9,948.1 L813.1,948.1 L815.3,947.8 L817.4,947.4 L819.5,946.8 L821.6,946.5 L823.6,946.1 L825.7,946.0 L827.7,945.7 L829.6,945.2 L831.4,944.5 L833.2,944.2 L834.9,943.9 L836.6,943.7 L838.2,943.9 L840.9,944.0 L843.3,944.0 L845.4,943.6 L847.3,943.4 L849.0,943.0 L850.6,942.5 L852.2,942.3 L853.9,941.9 L855.7,941.6 L857.7,941.1 L860.0,940.9 L861.8,941.1 L863.6,941.0 L865.5,940.7 L867.3,940.0 L869.3,939.6 L871.2,938.8 L873.1,938.0 L875.2,937.6 L877.2,937.0 L879.4,936.8 L881.5,936.2 L883.6,935.9 L885.6,935.3 L887.6,934.7 L889.7,934.3 L891.6,933.8 L893.6,933.3 L895.6,932.9 L897.4,932.1 L899.3,931.5 L901.2,930.8 L903.1,930.4 L905.1,930.2 L907.1,930.2 L909.0,929.4 L910.9,928.9 L912.9,928.3 L914.9,928.1 L917.0,928.0 L919.0,927.5 L921.0,926.8 L923.1,926.1 L924.9,925.5 L926.9,925.0 L928.9,924.6 L931.1,924.3 L933.3,924.3 L935.5,924.0 L937.6,923.5 L939.7,922.9 L941.8,922.2 L944.0,921.9 L946.1,921.6 L948.3,921.6 L950.3,921.2 L952.2,920.7 L954.0,920.0 L955.7,919.5 L957.4,919.4 L958.9,919.0 L961.4,918.0 L963.4,917.3 L965.1,916.8 L966.3,915.9 L967.7,915.3 L968.9,914.3 L970.6,913.4 L972.9,912.7 L975.8,911.7 L977.2,911.0 L978.8,910.6 L980.4,909.8 L982.3,909.8 L984.2,909.0 L986.2,908.6 L988.2,908.0 L990.4,907.6 L992.6,907.1 L994.7,906.3 L997.0,905.8 L999.1,905.0 L1001.3,904.3 L1003.5,903.6 L1005.7,903.0 L1007.9,902.6 L1010.1,902.4 L1012.2,901.9 L1014.2,901.4 L1016.0,900.5 L1017.7,899.6 L1019.8,898.6 L1022.1,898.1 L1024.3,897.6 L1026.4,897.0 L1028.4,896.2 L1030.4,895.5 L1032.2,894.4 L1034.1,893.8 L1036.2,893.5 L1038.2,893.2 L1040.0,892.2 L1041.8,891.3 L1043.7,890.7 L1045.6,890.1 L1047.5,889.4 L1049.4,888.4 L1051.3,887.6 L1053.4,887.1 L1055.5,886.8 L1057.5,886.4 L1059.5,885.7 L1061.3,884.5 L1063.1,883.6 L1065.1,883.0 L1067.1,882.4 L1069.1,882.0 L1071.1,881.4 L1073.1,880.8 L1075.1,880.2 L1076.9,879.1 L1078.8,878.1 L1080.6,877.1 L1082.6,876.4 L1084.6,875.9 L1086.6,875.3 L1088.7,875.0 L1090.7,874.4 L1092.7,873.5 L1094.5,872.5 L1096.5,871.8 L1098.5,871.3 L1100.6,871.0 L1102.5,870.0 L1104.6,869.7 L1106.6,869.1 L1108.6,868.6 L1110.5,867.9 L1112.5,867.4 L1114.5,866.7 L1116.6,866.4 L1118.6,865.9 L1120.6,865.0 L1122.7,864.4 L1124.8,864.2 L1127.0,864.1 L1129.1,863.7 L1131.1,863.0 L1133.0,862.1 L1135.0,861.6 L1136.9,861.4 L1138.8,861.1 L1140.6,860.7 L1142.4,860.6 L1144.1,860.5 L1146.6,860.4 L1149.0,859.9 L1151.2,859.8 L1153.3,859.6 L1155.3,859.9 L1157.2,860.5 L1159.1,861.2 L1160.9,861.8 L1163.0,861.6 L1165.1,861.4 L1167.2,861.4 L1169.3,861.3 L1171.4,861.8 L1173.5,862.0 L1175.5,862.9 L1177.6,863.3 L1179.7,863.5 L1181.9,863.6 L1183.9,864.2 L1186.0,864.5 L1188.2,864.7 L1190.3,865.0 L1192.5,865.2 L1194.5,866.0 L1196.6,866.7 L1198.7,867.1 L1200.9,867.4 L1203.0,867.6 L1205.1,868.2 L1207.2,868.4 L1209.3,868.7 L1211.4,868.9 L1213.5,869.4 L1215.5,869.7 L1217.6,869.9 L1219.7,870.1 L1221.8,870.3 L1223.9,870.4 L1226.0,870.2 L1228.2,870.1 L1230.2,870.2 L1232.1,870.6 L1234.1,871.0 L1236.0,871.3 L1238.1,871.3 L1240.1,871.6 L1242.1,871.8 L1244.0,872.4 L1246.0,872.6 L1248.0,873.0 L1250.1,873.1 L1252.0,873.7 L1253.8,874.4 L1255.5,875.3 L1257.4,875.8 L1259.2,876.2 L1261.2,876.6 L1263.0,877.4 L1264.9,878.3 L1267.0,879.0 L1269.3,879.1 L1271.7,879.5 L1273.4,879.8 L1275.2,880.1 L1277.1,880.4 L1279.0,881.0 L1280.9,881.5 L1283.0,881.6 L1285.0,882.3 L1287.0,882.8 L1289.1,883.3 L1291.2,883.5 L1293.3,884.1 L1295.5,884.1 L1297.7,884.2 L1299.8,884.6 L1301.9,884.7 L1303.9,885.3 L1306.0,885.5 L1307.9,886.3 L1310.0,886.8 L1311.9,887.6 L1313.9,888.2 L1315.9,888.7 L1318.0,889.0 L1320.1,889.6 L1322.2,889.8 L1324.1,890.6 L1326.1,891.4 L1328.0,892.3 L1330.0,893.1 L1331.9,894.0 L1334.1,894.1 L1336.1,894.5 L1338.3,894.6 L1340.3,895.2 L1342.4,895.3 L1344.4,895.9 L1346.5,895.9 L1348.6,896.1 L1350.6,896.7 L1352.5,897.5 L1354.5,898.3 L1356.5,898.9 L1358.5,899.5 L1360.5,899.7 L1362.6,899.9 L1364.7,900.2 L1366.6,901.0 L1368.6,901.5 L1370.7,901.7 L1372.8,901.8 L1374.8,902.4 L1376.7,903.3 L1378.8,903.5 L1380.8,903.9 L1382.8,904.3 L1384.8,904.9 L1386.9,905.0 L1388.9,905.3 L1391.0,905.7 L1392.9,906.4 L1394.9,907.1 L1396.9,907.5 L1398.9,907.9 L1401.0,908.1 L1403.0,908.3 L1405.0,908.6 L1407.0,908.9 L1409.0,909.2 L1411.1,909.3 L1413.1,909.2 L1415.1,909.4 L1417.1,909.6 L1419.2,909.9 L1421.2,909.9 L1423.2,910.0 L1425.2,910.0 L1427.2,910.5 L1429.2,910.9 L1431.3,911.0 L1433.2,911.6 L1435.3,911.6 L1437.4,911.8 L1439.4,911.8 L1441.4,912.5 L1443.5,912.7 L1445.5,913.2 L1447.5,913.6 L1449.6,913.8 L1451.6,914.2 L1453.7,914.7 L1455.6,915.4 L1457.6,916.1 L1459.6,916.6 L1461.6,917.0 L1463.7,917.2 L1465.7,917.7 L1467.7,918.1 L1469.7,918.7 L1471.8,918.6 L1473.9,918.7 L1475.9,919.0 L1477.8,919.7 L1479.9,919.9 L1481.9,920.3 L1483.9,920.7 L1485.9,921.2 L1487.8,921.8 L1489.8,922.3 L1491.9,922.3 L1493.9,922.6 L1496.0,922.5 L1498.0,922.7 L1500.0,923.1 L1502.0,923.5 L1504.1,923.7 L1506.1,923.9 L1508.2,923.7 L1510.2,923.9 L1512.2,924.2 L1514.2,924.9 L1516.2,925.2 L1518.2,925.3 L1520.3,925.2 L1522.3,925.4 L1524.4,925.5 L1526.4,925.5 L1528.4,925.8 L1530.4,926.4 L1532.4,926.8 L1534.4,927.0 L1536.4,927.2 L1538.5,927.3 L1540.5,927.4 L1542.5,927.5 L1544.6,927.5 L1546.6,927.9 L1548.6,928.4 L1550.5,929.1 L1552.6,929.0 L1554.6,929.0 L1556.6,929.0 L1558.7,929.1 L1560.7,929.3 L1562.7,929.7 L1564.7,929.7 L1566.6,929.9 L1568.5,929.9 L1570.4,930.0 L1572.3,930.1 L1574.2,929.9 L1576.0,930.1 L1577.9,930.1 L1579.9,930.0 L1581.8,929.9 L1583.8,929.8 L1585.9,930.2 L1588.1,930.1 L1590.3,930.1 L1592.7,930.3 L1595.1,930.3 L1596.9,930.8 L1598.9,930.9 L1600.9,930.9 L1603.1,930.6 L1605.4,930.4 L1607.7,930.4 L1610.1,930.9 L1612.5,931.0 L1615.0,931.1 L1617.4,931.4 L1619.9,931.2 L1622.3,931.2 L1624.7,931.1 L1627.0,931.1 L1629.3,931.1 L1631.5,931.4 L1633.5,931.6 L1635.5,931.3 L1637.3,930.7 L1639.0,930.8 L1640.5,931.2 L1641.9,931.5 L1643.0,931.6" fill="none" stroke="#000" stroke-width="3.6" stroke-linejoin="round" stroke-linecap="round"/>
<path d="M128.5,1272.0 L129.8,1272.2 L131.5,1272.2 L133.6,1272.5 L135.9,1272.5 L138.3,1272.4 L140.8,1272.6 L142.8,1272.7 L144.9,1272.5 L147.2,1272.0 L149.5,1271.8 L151.9,1271.5 L154.1,1271.1 L156.1,1270.5 L157.8,1269.9 L160.2,1269.3 L162.1,1268.5 L164.0,1268.0 L165.5,1267.1 L167.3,1266.4 L169.3,1266.0 L171.3,1266.4 L173.4,1266.9 L175.8,1267.0 L178.9,1266.9 L180.4,1266.2 L182.2,1265.6 L183.7,1264.3 L185.6,1263.4 L187.3,1262.0 L189.3,1261.0 L191.3,1259.8 L193.2,1258.5 L195.1,1256.9 L197.3,1255.9 L199.7,1255.1 L201.5,1254.5 L203.0,1253.3 L204.3,1251.8 L205.7,1250.6 L207.0,1249.1 L208.6,1248.0 L210.0,1246.5 L211.8,1245.5 L213.5,1244.2 L215.3,1243.1 L217.0,1241.6 L218.9,1240.3 L220.6,1238.7 L222.5,1237.1 L223.7,1235.8 L224.8,1234.3 L226.3,1233.2 L227.8,1232.0 L229.2,1230.7 L230.7,1229.5 L232.2,1228.1 L234.0,1227.0 L235.8,1225.9 L237.5,1224.7 L239.2,1223.6 L240.6,1221.9 L241.9,1220.3 L243.3,1218.6 L244.9,1217.3 L246.4,1215.8 L248.2,1214.7 L249.7,1213.2 L251.4,1212.1 L253.1,1210.9 L254.6,1209.6 L256.0,1208.0 L257.5,1206.6 L258.8,1205.0 L260.2,1203.4 L261.6,1201.8 L263.0,1200.2 L264.6,1198.9 L266.1,1197.4 L267.4,1195.8 L268.6,1194.0 L269.9,1192.4 L271.1,1190.7 L272.8,1189.6 L274.4,1188.4 L276.1,1187.4 L277.2,1185.8 L278.4,1184.4 L279.8,1183.2 L281.0,1182.0 L282.7,1180.3 L284.2,1178.6 L285.8,1177.0 L287.2,1175.5 L288.7,1174.0 L289.9,1172.5 L291.0,1170.8 L292.1,1169.3 L293.4,1167.9 L294.8,1166.7 L296.3,1165.5 L297.6,1164.2 L298.9,1162.9 L300.1,1161.4 L301.8,1160.0 L303.1,1158.3 L304.7,1156.9 L306.1,1155.4 L307.8,1154.3 L309.5,1153.1 L311.2,1152.0 L312.6,1150.3 L313.8,1148.5 L315.3,1147.0 L317.0,1145.5 L318.9,1144.2 L320.4,1142.9 L321.4,1141.3 L322.7,1139.8 L323.9,1138.1 L325.2,1136.6 L326.5,1134.9 L327.4,1133.0 L328.4,1131.2 L329.9,1129.6 L331.3,1128.0 L332.7,1126.4 L333.8,1124.5 L334.8,1122.6 L336.0,1120.8 L337.7,1119.4 L338.9,1117.8 L340.3,1116.2 L341.9,1114.7 L343.8,1113.5 L345.4,1112.1 L347.1,1110.6 L348.6,1108.9 L349.9,1107.1 L351.3,1105.4 L352.9,1103.9 L354.5,1102.5 L356.2,1101.3 L357.8,1100.0 L359.4,1098.9 L360.9,1097.8 L362.5,1096.9 L364.6,1095.7 L366.6,1094.7 L368.4,1093.5 L369.9,1092.2 L371.5,1091.1 L373.1,1090.1 L374.9,1089.5 L376.6,1088.7 L378.0,1087.6 L379.7,1086.6 L381.3,1085.4 L383.0,1084.2 L384.7,1083.1 L386.3,1081.8 L388.0,1080.6 L389.4,1079.0 L391.1,1077.7 L392.8,1076.6 L394.5,1075.4 L396.4,1074.5 L398.1,1073.3 L400.1,1072.7 L402.0,1072.0 L404.2,1072.0 L406.4,1072.0 L408.6,1072.3 L410.8,1072.0 L413.0,1071.9 L415.1,1071.4 L417.3,1071.4 L419.3,1070.7 L421.2,1070.3 L423.0,1070.0 L425.6,1070.0 L427.9,1070.0 L430.1,1069.5 L432.1,1069.3 L434.1,1069.1 L436.1,1069.0 L438.1,1069.0 L440.4,1069.0 L442.5,1069.2 L444.6,1068.9 L446.7,1069.4 L448.9,1070.2 L451.3,1071.4 L452.9,1071.9 L454.5,1072.6 L456.0,1073.5 L457.7,1074.5 L459.3,1075.7 L461.2,1076.5 L463.0,1077.6 L464.7,1079.0 L466.3,1080.6 L467.9,1082.2 L469.7,1083.5 L471.6,1084.2 L473.4,1085.1 L474.9,1086.4 L476.1,1088.2 L477.7,1089.5 L479.2,1091.0 L480.8,1092.3 L482.8,1093.4 L484.6,1094.7 L486.3,1096.1 L487.9,1097.7 L489.3,1099.4 L490.9,1101.1 L492.5,1102.2 L493.6,1103.8 L495.0,1105.2 L496.4,1106.7 L497.8,1108.2 L499.4,1109.5 L500.7,1111.3 L501.8,1113.0 L502.6,1115.1 L503.9,1116.7 L505.5,1118.1 L507.1,1119.4 L508.2,1121.1 L509.3,1122.7 L510.2,1124.5 L511.3,1125.9 L513.1,1127.5 L515.1,1128.7 L516.9,1130.1 L518.4,1131.7 L519.7,1133.4 L521.0,1135.1 L522.0,1136.9 L523.4,1138.4 L524.8,1139.8 L526.2,1141.3 L527.4,1142.8 L528.7,1144.3 L530.5,1145.6 L531.8,1147.2 L533.1,1148.6 L534.3,1150.0 L535.4,1151.6 L536.4,1153.2 L537.5,1154.9 L539.1,1156.1 L540.6,1157.5 L542.3,1159.0 L543.7,1160.9 L544.9,1162.3 L546.1,1163.8 L547.3,1165.4 L548.7,1166.9 L550.2,1168.5 L551.6,1170.1 L552.9,1171.9 L554.4,1173.5 L555.8,1175.1 L557.3,1176.7 L558.9,1178.2 L560.3,1179.9 L561.7,1181.4 L563.1,1182.9 L564.7,1184.1 L566.5,1185.4 L568.0,1187.0 L569.5,1188.6 L571.1,1190.0 L572.8,1191.2 L574.4,1192.6 L576.1,1193.7 L577.6,1195.2 L579.1,1196.4 L580.8,1197.6 L582.6,1198.5 L584.3,1199.6 L585.7,1201.0 L587.4,1202.2 L588.9,1203.6 L590.5,1204.8 L592.3,1205.5 L594.0,1206.4 L595.3,1208.0 L596.9,1209.1 L598.6,1210.2 L600.3,1211.3 L602.4,1212.0 L604.4,1213.0 L606.7,1213.8 L608.3,1214.6 L609.9,1215.6 L611.5,1216.7 L613.2,1217.6 L615.1,1218.4 L617.0,1219.1 L618.9,1220.1 L620.7,1221.2 L622.6,1222.1 L624.6,1223.0 L626.4,1224.1 L628.4,1225.0 L630.4,1225.7 L632.6,1226.1 L634.5,1226.9 L636.3,1227.8 L638.2,1228.5 L640.3,1228.9 L642.3,1229.6 L644.3,1230.3 L646.1,1231.4 L648.1,1232.0 L649.9,1233.1 L651.9,1233.6 L653.9,1234.3 L655.8,1235.0 L657.9,1235.3 L659.9,1235.7 L662.0,1235.9 L664.0,1236.3 L666.0,1236.6 L668.0,1237.1 L669.9,1237.7 L671.9,1238.2 L673.8,1238.9 L675.7,1239.2 L677.6,1239.4 L679.4,1240.1 L681.4,1240.4 L683.2,1241.0 L685.1,1241.2 L686.9,1241.9 L688.9,1242.4 L690.8,1243.0 L692.9,1242.7 L695.0,1243.1 L697.1,1243.5 L699.2,1244.1 L701.5,1244.3 L703.2,1244.7 L705.1,1245.0 L706.9,1244.9 L708.8,1244.7 L710.8,1244.7 L712.7,1244.7 L714.7,1244.9 L716.7,1244.9 L718.8,1245.1 L720.8,1245.2 L722.9,1245.2 L724.9,1245.3 L727.0,1245.4 L729.1,1245.4 L731.2,1245.2 L733.3,1245.2 L735.3,1245.6 L737.4,1245.5 L739.5,1245.5 L741.5,1245.6 L743.5,1245.8 L745.5,1245.5 L747.5,1245.5 L749.5,1245.6 L751.5,1246.0 L753.5,1245.9 L755.5,1246.1 L757.5,1246.1 L759.5,1246.1 L761.5,1245.9 L763.5,1246.0 L765.5,1246.0 L767.6,1246.1 L769.6,1245.8 L771.6,1245.6 L773.6,1245.2 L775.6,1245.3 L777.6,1245.1 L779.6,1244.9 L781.6,1245.1 L783.6,1245.0 L785.6,1244.8 L787.6,1244.2 L789.6,1244.2 L791.6,1244.0 L793.7,1244.1 L795.8,1243.8 L797.9,1244.2 L800.0,1244.2 L802.1,1244.2 L804.2,1243.9 L806.2,1243.7 L808.3,1243.6 L810.4,1243.3 L812.4,1243.0 L814.4,1242.9 L816.4,1242.9 L818.4,1242.8 L820.3,1242.3 L822.2,1241.8 L824.1,1241.6 L825.9,1241.7 L827.7,1241.6 L830.0,1241.4 L832.1,1240.7 L834.3,1240.7 L836.3,1240.8 L838.3,1241.3 L840.3,1241.5 L842.2,1241.4 L844.1,1241.3 L846.0,1241.1 L847.9,1241.1 L849.8,1241.0 L851.8,1241.0 L853.7,1241.0 L855.8,1241.0 L857.9,1240.7 L860.0,1240.0 L861.8,1239.9 L863.7,1239.7 L865.7,1239.5 L867.6,1238.9 L869.6,1238.8 L871.6,1238.8 L873.7,1238.9 L875.7,1238.3 L877.7,1238.0 L879.7,1237.7 L881.8,1237.4 L883.9,1237.2 L885.9,1236.8 L887.9,1236.5 L890.0,1236.3 L892.0,1236.0 L894.0,1235.6 L896.0,1235.1 L897.9,1234.5 L899.9,1234.3 L902.0,1234.0 L904.1,1233.9 L906.1,1233.5 L908.0,1233.0 L909.9,1232.1 L911.8,1231.5 L913.8,1231.0 L915.7,1230.4 L917.6,1229.9 L919.6,1229.5 L921.6,1229.2 L923.7,1229.3 L925.7,1228.6 L927.7,1228.2 L929.5,1227.2 L931.6,1226.8 L933.6,1226.3 L935.7,1226.3 L937.8,1226.3 L939.9,1226.0 L942.0,1225.3 L944.1,1224.6 L946.3,1224.0 L948.4,1223.6 L950.6,1223.1 L952.7,1222.1 L954.9,1221.8 L957.0,1221.3 L959.2,1221.3 L961.1,1220.7 L963.1,1220.4 L964.9,1219.8 L966.8,1219.7 L968.5,1219.8 L970.1,1219.4 L971.4,1218.6 L974.6,1217.7 L976.8,1217.4 L978.5,1217.5 L979.9,1217.3 L981.4,1217.0 L983.5,1216.7 L986.3,1216.0 L987.7,1215.1 L989.4,1214.6 L991.2,1214.0 L993.2,1213.7 L995.2,1212.8 L997.2,1211.9 L999.3,1211.0 L1001.6,1210.6 L1003.8,1209.9 L1006.0,1209.3 L1008.1,1208.4 L1010.2,1207.6 L1012.1,1206.6 L1014.2,1206.2 L1016.1,1205.9 L1018.0,1205.7 L1020.2,1204.7 L1022.1,1203.7 L1023.9,1202.8 L1025.7,1202.0 L1027.4,1201.5 L1029.1,1200.9 L1030.9,1200.6 L1032.8,1200.1 L1034.8,1199.9 L1036.8,1199.0 L1039.0,1198.4 L1040.7,1197.8 L1042.6,1197.5 L1044.5,1197.1 L1046.3,1196.1 L1048.3,1195.3 L1050.4,1195.0 L1052.5,1194.5 L1054.7,1194.0 L1056.8,1193.6 L1059.0,1193.1 L1061.1,1192.7 L1063.1,1191.9 L1064.9,1190.9 L1066.7,1189.9 L1068.5,1189.3 L1070.2,1188.9 L1072.7,1188.4 L1074.8,1187.4 L1077.0,1186.7 L1079.1,1186.0 L1081.0,1185.1 L1082.9,1184.3 L1084.6,1183.1 L1086.3,1182.0 L1087.9,1180.7 L1089.7,1179.8 L1091.7,1179.4 L1093.7,1178.4 L1095.8,1177.7 L1097.9,1176.9 L1100.1,1176.6 L1102.1,1175.9 L1104.2,1175.3 L1106.2,1174.4 L1108.3,1173.8 L1110.4,1173.1 L1112.5,1172.6 L1114.4,1171.9 L1116.3,1171.1 L1118.1,1170.3 L1120.2,1169.9 L1122.1,1169.2 L1124.1,1168.8 L1126.0,1168.1 L1127.8,1167.1 L1129.8,1166.7 L1131.6,1165.8 L1133.6,1165.6 L1135.6,1164.7 L1137.7,1164.4 L1139.8,1163.8 L1142.0,1163.8 L1144.1,1163.7 L1146.2,1163.6 L1148.3,1163.2 L1150.4,1162.6 L1152.5,1162.3 L1154.6,1162.1 L1156.7,1162.2 L1158.9,1162.2 L1161.0,1161.9 L1163.0,1161.2 L1165.1,1160.8 L1167.2,1160.7 L1169.3,1160.7 L1171.4,1160.1 L1173.5,1159.4 L1175.6,1159.3 L1177.7,1159.6 L1179.7,1160.2 L1181.6,1160.4 L1183.5,1160.7 L1185.5,1161.2 L1187.5,1161.7 L1189.6,1161.9 L1191.8,1162.2 L1194.2,1162.6 L1196.7,1163.0 L1198.6,1163.0 L1200.5,1163.5 L1202.4,1164.4 L1204.6,1164.6 L1206.8,1164.7 L1209.1,1164.6 L1211.3,1165.0 L1213.6,1165.6 L1215.8,1166.3 L1218.0,1166.6 L1220.2,1166.9 L1222.3,1167.8 L1224.3,1168.3 L1226.3,1168.4 L1228.2,1168.2 L1230.6,1168.6 L1232.6,1169.4 L1234.5,1170.1 L1236.3,1170.8 L1238.2,1170.8 L1240.0,1171.3 L1241.8,1171.8 L1243.7,1172.3 L1245.6,1172.9 L1247.8,1173.4 L1250.1,1174.2 L1251.8,1174.8 L1253.5,1175.5 L1255.4,1176.1 L1257.3,1176.4 L1259.3,1176.8 L1261.4,1177.2 L1263.5,1177.5 L1265.6,1177.9 L1267.8,1178.1 L1269.9,1178.8 L1271.9,1179.7 L1274.0,1180.3 L1276.2,1180.7 L1278.4,1180.8 L1280.4,1181.3 L1282.5,1181.9 L1284.4,1182.6 L1286.4,1183.1 L1288.3,1183.8 L1290.3,1184.0 L1292.3,1184.5 L1294.2,1185.0 L1296.1,1185.6 L1298.1,1186.2 L1300.0,1186.8 L1302.0,1187.0 L1304.1,1187.3 L1306.2,1187.5 L1308.2,1188.3 L1310.4,1188.6 L1312.5,1189.3 L1314.7,1189.8 L1316.5,1190.5 L1318.4,1190.7 L1320.4,1190.5 L1322.4,1190.9 L1324.3,1191.1 L1326.2,1191.7 L1328.2,1192.3 L1330.2,1192.6 L1332.1,1193.3 L1334.2,1193.7 L1336.2,1194.3 L1338.3,1194.5 L1340.4,1195.1 L1342.5,1195.6 L1344.6,1196.3 L1346.7,1196.8 L1348.9,1197.6 L1351.1,1198.2 L1353.3,1198.8 L1355.2,1199.0 L1357.1,1199.5 L1359.0,1200.0 L1360.9,1200.6 L1362.8,1201.2 L1364.9,1201.3 L1366.9,1201.8 L1368.9,1202.6 L1370.9,1203.4 L1372.8,1204.4 L1374.8,1205.0 L1376.9,1205.6 L1379.0,1205.9 L1381.2,1206.3 L1383.3,1206.8 L1385.3,1207.4 L1387.3,1208.2 L1389.3,1208.9 L1391.2,1209.8 L1393.3,1210.1 L1395.4,1210.2 L1397.4,1210.5 L1399.2,1211.3 L1401.2,1211.4 L1403.4,1211.7 L1405.5,1212.5 L1407.4,1213.7 L1409.4,1214.8 L1411.4,1215.5 L1413.4,1216.2 L1415.5,1216.5 L1417.6,1216.7 L1419.8,1216.4 L1421.8,1216.6 L1423.9,1216.8 L1425.9,1217.4 L1427.9,1217.9 L1429.9,1218.5 L1431.8,1219.1 L1433.9,1219.1 L1436.0,1219.4 L1438.0,1219.4 L1440.1,1219.8 L1442.0,1220.5 L1444.1,1221.0 L1446.1,1221.5 L1448.2,1222.0 L1450.4,1222.1 L1452.5,1222.7 L1454.6,1223.2 L1456.7,1223.5 L1458.8,1224.1 L1460.9,1224.7 L1463.0,1225.3 L1465.1,1225.8 L1467.3,1226.2 L1469.4,1226.5 L1471.5,1226.8 L1473.6,1227.0 L1475.7,1227.1 L1477.7,1227.7 L1479.6,1228.2 L1481.5,1228.9 L1483.4,1229.2 L1485.3,1229.5 L1487.2,1229.7 L1489.5,1230.1 L1491.8,1230.3 L1493.9,1230.7 L1496.1,1230.8 L1498.1,1231.3 L1500.1,1231.8 L1502.0,1232.7 L1504.0,1232.8 L1506.0,1232.8 L1507.9,1233.0 L1509.8,1233.5 L1511.7,1233.8 L1513.6,1234.4 L1515.6,1234.5 L1517.6,1234.7 L1519.7,1234.4 L1521.6,1235.2 L1523.6,1235.5 L1525.5,1235.9 L1527.5,1235.7 L1529.4,1235.8 L1531.3,1235.9 L1533.2,1236.3 L1535.2,1236.5 L1537.1,1236.4 L1539.1,1236.6 L1541.1,1236.8 L1543.2,1237.0 L1545.3,1237.3 L1547.5,1237.4 L1549.7,1237.6 L1552.0,1237.7 L1553.8,1238.3 L1555.7,1238.5 L1557.5,1238.6 L1559.5,1238.4 L1561.4,1238.6 L1563.4,1238.6 L1565.4,1238.8 L1567.4,1239.0 L1569.5,1239.1 L1571.5,1239.1 L1573.6,1239.1 L1575.7,1239.4 L1577.9,1239.2 L1580.0,1239.5 L1582.1,1239.6 L1584.3,1239.8 L1586.4,1239.7 L1588.6,1239.6 L1590.8,1239.6 L1593.0,1239.6 L1595.1,1239.8 L1597.1,1240.1 L1599.1,1240.4 L1601.2,1240.4 L1603.3,1241.1 L1605.6,1241.3 L1607.8,1241.7 L1610.1,1241.7 L1612.5,1241.5 L1614.8,1241.4 L1617.2,1241.5 L1619.4,1242.2 L1621.7,1242.6 L1624.0,1242.5 L1626.2,1242.3 L1628.4,1242.1 L1630.4,1242.3 L1632.4,1242.7 L1634.3,1243.2 L1636.0,1243.3 L1637.7,1243.5 L1639.3,1243.4 L1640.7,1243.3 L1641.9,1243.2 L1643.0,1243.3" fill="none" stroke="#000" stroke-width="3.6" stroke-linejoin="round" stroke-linecap="round"/>
<path d="M129.5,1141.2 L150.8,1138.4 M181.5,1121.2 L205.2,1104.7 M236.2,1081.8 L259.7,1068.7 M290.8,1051.3 L314.3,1038.0 M345.4,1020.4 L368.9,1007.0 M400.0,989.3 L423.5,975.8 M454.6,957.8 L478.1,944.2 M509.2,926.1 L532.7,912.4 M563.8,894.2 L587.3,880.4 M618.4,862.1 L641.9,848.2 M673.0,829.8 L696.5,815.9 M727.6,797.4 L751.1,783.4 M782.2,764.8 L805.7,750.8 M836.8,732.2 L860.3,718.1 M891.4,699.5 L914.9,685.4 M946.0,666.7 L969.5,652.6 M1000.6,633.9 L1024.1,619.8 M1055.2,601.2 L1078.7,587.1 M1109.8,568.5 L1133.3,554.4 M1164.4,535.8 L1187.9,521.8 M1219.0,503.2 L1242.5,489.2 M1273.6,470.8 L1297.1,456.9 M1328.2,438.5 L1351.7,424.6 M1382.8,406.3 L1406.3,392.6 M1437.4,374.4 L1460.9,360.7 M1492.0,342.7 L1515.5,329.1 M1546.6,311.2 L1570.1,297.8 M1601.2,280.0 L1624.7,266.7" fill="none" stroke="#000" stroke-width="3.4" stroke-linecap="butt"/>
<path d="M127.5,39.5 H1644.0 V1360.5 H127.5 Z" fill="none" stroke="#000" stroke-width="3.4"/>
<path d="M127.5,1360.5 V1391.0 M317.1,1360.5 V1376.5 M506.6,1360.5 V1391.0 M696.2,1360.5 V1376.5 M885.8,1360.5 V1391.0 M1075.3,1360.5 V1376.5 M1264.9,1360.5 V1391.0 M1454.4,1360.5 V1376.5 M1644.0,1360.5 V1391.0 M1644.0,1360.5 H1676.0 M1644.0,1140.3 H1676.0 M1644.0,920.2 H1676.0 M1644.0,700.0 H1676.0 M1644.0,479.8 H1676.0 M1644.0,259.7 H1676.0 M1644.0,39.5 H1676.0" fill="none" stroke="#000" stroke-width="3.2"/>
<g font-family="'Liberation Serif','Times New Roman',serif" font-weight="bold" fill="#000">
<text transform="translate(130.5,1461.5) scale(1.050,1)" font-size="56.5" text-anchor="middle">0</text>
<text transform="translate(506.6,1461.5) scale(1.050,1)" font-size="56.5" text-anchor="middle">10</text>
<text transform="translate(885.8,1461.5) scale(1.050,1)" font-size="56.5" text-anchor="middle">20</text>
<text transform="translate(1264.9,1461.5) scale(1.050,1)" font-size="56.5" text-anchor="middle">30</text>
<text transform="translate(1644.0,1461.5) scale(1.050,1)" font-size="56.5" text-anchor="middle">40</text>
<text transform="translate(1694,1378.7) scale(1.050,1)" font-size="56.5">0</text>
<text transform="translate(1694,1158.5) scale(1.050,1)" font-size="56.5">100</text>
<text transform="translate(1694,938.4) scale(1.050,1)" font-size="56.5">200</text>
<text transform="translate(1694,718.2) scale(1.050,1)" font-size="56.5">300</text>
<text transform="translate(1694,498.0) scale(1.050,1)" font-size="56.5">400</text>
<text transform="translate(1694,277.9) scale(1.050,1)" font-size="56.5">500</text>
<text transform="translate(1694,57.7) scale(1.050,1)" font-size="56.5">600</text>
<text transform="translate(421.3,145.0) scale(1.050,1)" font-size="56.5" text-anchor="middle">174</text>
<text transform="translate(484.3,342.6) scale(1.050,1)" font-size="56.5" text-anchor="middle">190</text>
<text transform="translate(421.0,737.3) scale(1.050,1)" font-size="56.5" text-anchor="middle">181</text>
<text transform="translate(421.8,1059.0) scale(1.050,1)" font-size="56.5" text-anchor="middle">180</text>
<text transform="translate(1079.0,397.9) scale(1.060,1)" font-size="64.5">Fe-Cu(0)-K/ZSM5</text>
<text transform="translate(1085.3,717.3) scale(1.060,1)" font-size="64.5">Fe-Cu(2)-K/ZSM5</text>
<text transform="translate(1088.5,993.8) scale(1.060,1)" font-size="64.5">Fe-Cu(4)-K/ZSM5</text>
<text transform="translate(1088.5,1306.9) scale(1.060,1)" font-size="64.5">Fe-Cu(6)-K/ZSM5</text>
<text transform="translate(892,1535.7) scale(1.050,1)" font-size="64.5" text-anchor="middle">Time (min)</text>
<text transform="translate(66,735) scale(1.000,1) rotate(-90)" font-size="67" text-anchor="middle">Intensity (a.u.)</text>
<text transform="translate(1875,700.5) scale(1.000,1) rotate(-90)" font-size="67" text-anchor="middle">Temperature, <tspan font-size="39" dy="-38.5">o</tspan><tspan dy="38.5">C</tspan></text>
</g>
</g>
</svg></body></html>
